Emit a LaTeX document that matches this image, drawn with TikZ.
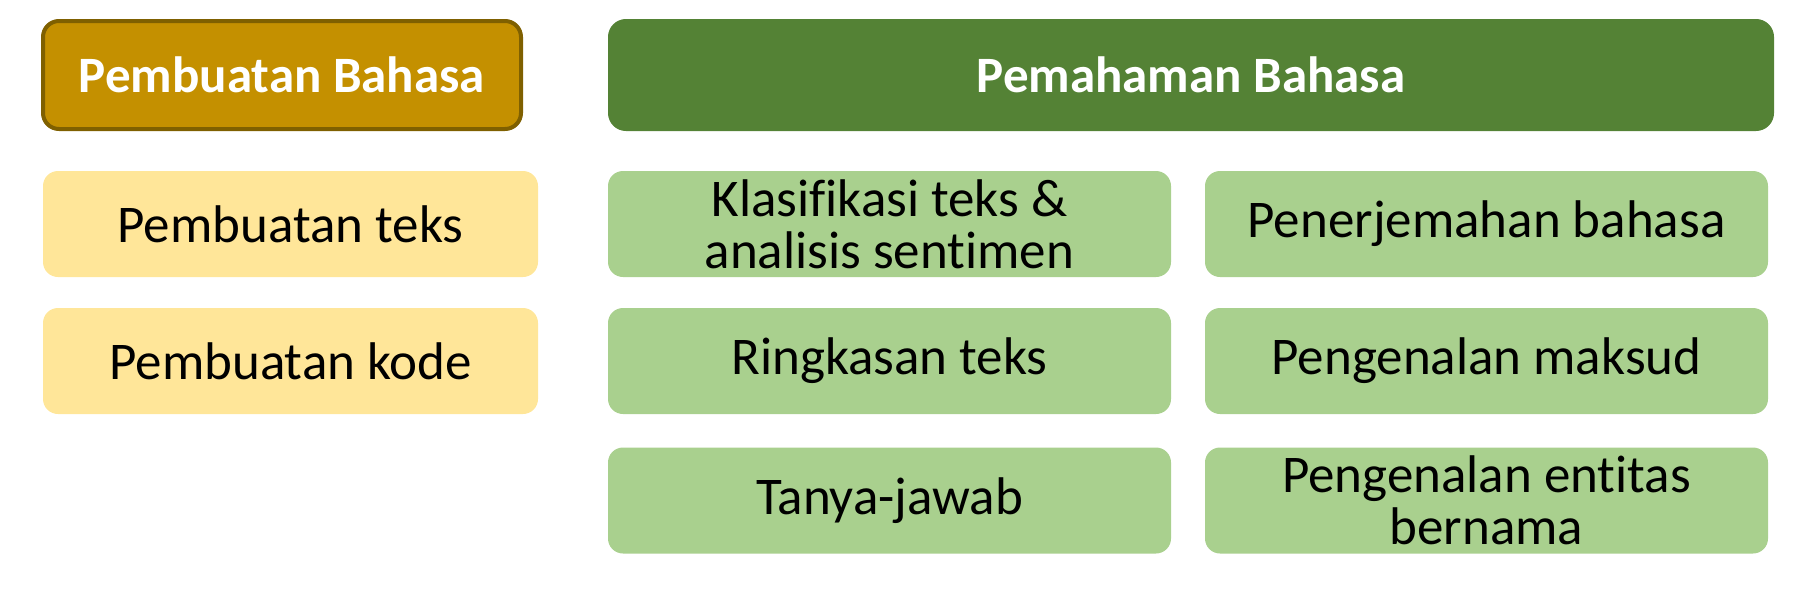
\documentclass[tikz,border=0pt]{standalone}
\usepackage{fontspec}
\setmainfont[Ligatures=NoCommon]{Carlito}
\definecolor{goldfill}{HTML}{C49000}
\definecolor{golddraw}{HTML}{7F6000}
\definecolor{goldlight}{HTML}{FFE699}
\definecolor{greendark}{HTML}{548235}
\definecolor{greenlight}{HTML}{A9D08E}
\tikzset{
  header/.style={rounded corners=16pt, line width=4pt, text=white,
    font=\bfseries\fontsize{51}{56}\selectfont, inner sep=0pt},
  item/.style={rounded corners=15pt, text=black, align=center,
    font=\fontsize{53}{52}\selectfont, inner sep=0pt},
  yitem/.style={item, fill=goldlight, minimum width=495pt, minimum height=106pt},
  gitem/.style={item, fill=greenlight, minimum width=563pt, minimum height=106pt},
}
\begin{document}
\begin{tikzpicture}[x=1pt,y=-1pt]
\useasboundingbox (0,0) rectangle (1808,592);
% headers
\node[header, fill=goldfill, draw=golddraw, minimum width=478pt, minimum height=108pt] (hgen) at (282,75) {Pembuatan Bahasa};
\node[header, fill=greendark, draw=greendark, minimum width=1162pt, minimum height=108pt] (hund) at (1191,75) {Pemahaman Bahasa};
% generation items
\node[yitem] (g1) at (290.5,224) {Pembuatan teks};
\node[yitem] (g2) at (290.5,361) {Pembuatan kode};
% understanding items
\node[gitem] (u1) at (889.5,224) {Klasifikasi teks \&\\analisis sentimen};
\node[gitem] (u2) at (1486.5,224) {Penerjemahan bahasa};
\node[gitem] (u3) at (889.5,361) {Ringkasan teks};
\node[gitem] (u4) at (1486.5,361) {Pengenalan maksud};
\node[gitem] (u5) at (889.5,500.5) {Tanya-jawab};
\node[gitem] (u6) at (1486.5,500.5) {Pengenalan entitas\\bernama};
\end{tikzpicture}
\end{document}
